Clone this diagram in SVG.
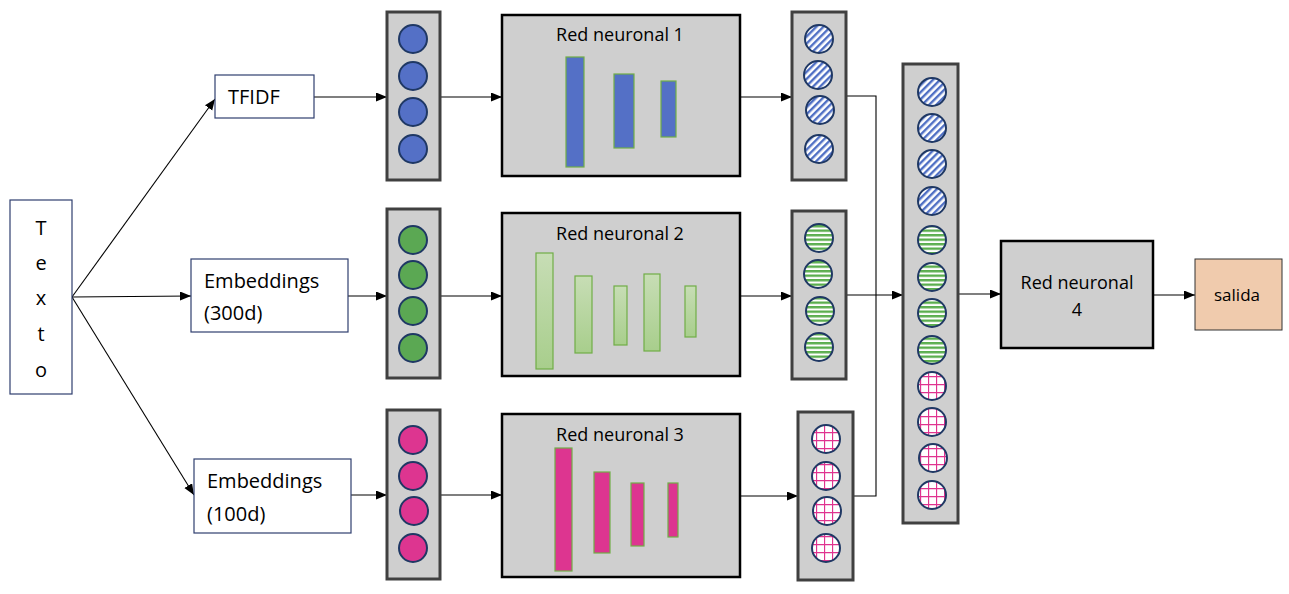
<svg xmlns="http://www.w3.org/2000/svg" width="1289" height="594" viewBox="0 0 1289 594">
<style>
text{font-family:"Open Sans","Liberation Sans",sans-serif;fill:#000}
.tbox{fill:#fff;stroke:#2F3F6F;stroke-width:1.2}
.vec{fill:#CFCFCF;stroke:#404040;stroke-width:3}
.net{fill:#CFCFCF;stroke:#000;stroke-width:2.5}
.c{stroke:#1F3864;stroke-width:2}
.cb{fill:#5470C6}
.cg{fill:#5BA853}
.cm{fill:#DD3590}
.pd{fill:url(#pDiag)}
.ph{fill:url(#pHor)}
.pg{fill:url(#pGrid)}
.bb{fill:#5470C6;stroke:#70AD47;stroke-width:1.2}
.bg{fill:url(#gGreen);stroke:#70AD47;stroke-width:1.2}
.bm{fill:#DD3590;stroke:#70AD47;stroke-width:1.2}
.conn{fill:none;stroke:#000;stroke-width:1.1}
</style>
<defs>
<marker id="arr" markerUnits="userSpaceOnUse" markerWidth="12" markerHeight="10" refX="11" refY="4.5" orient="auto">
<path d="M0,0 L11,4.5 L0,9 z" fill="#000"/>
</marker>
<pattern id="pDiag" patternUnits="userSpaceOnUse" width="5" height="5" patternTransform="rotate(45)">
<rect width="5" height="5" fill="#fff"/>
<rect width="2.4" height="5" fill="#4F6FC4"/>
</pattern>
<pattern id="pHor" patternUnits="userSpaceOnUse" width="5" height="4.5">
<rect width="5" height="4.5" fill="#fff"/>
<rect width="5" height="2.4" fill="#5BAE4E"/>
</pattern>
<pattern id="pGrid" patternUnits="userSpaceOnUse" width="8" height="8">
<rect width="8" height="8" fill="#fff"/>
<path d="M0,0.5 H8 M0.5,0 V8" stroke="#E0338F" stroke-width="1.3"/>
</pattern>
<linearGradient id="gGreen" x1="0" y1="0" x2="0" y2="1">
<stop offset="0" stop-color="#C7DDB5"/>
<stop offset="1" stop-color="#A8CE8C"/>
</linearGradient>
</defs>

<g id="connectors">
<line class="conn" x1="72" y1="297" x2="215" y2="99" marker-end="url(#arr)"/>
<line class="conn" x1="72" y1="297" x2="191" y2="296" marker-end="url(#arr)"/>
<line class="conn" x1="72" y1="297" x2="194" y2="495" marker-end="url(#arr)"/>
<line class="conn" x1="314" y1="97" x2="387" y2="97" marker-end="url(#arr)"/>
<line class="conn" x1="348" y1="296" x2="387" y2="296" marker-end="url(#arr)"/>
<line class="conn" x1="351" y1="495" x2="387" y2="495" marker-end="url(#arr)"/>
<line class="conn" x1="440" y1="97" x2="502" y2="97" marker-end="url(#arr)"/>
<line class="conn" x1="440" y1="296" x2="502" y2="296" marker-end="url(#arr)"/>
<line class="conn" x1="440" y1="495" x2="502" y2="495" marker-end="url(#arr)"/>
<line class="conn" x1="740" y1="97" x2="792" y2="97" marker-end="url(#arr)"/>
<line class="conn" x1="740" y1="296" x2="792" y2="296" marker-end="url(#arr)"/>
<line class="conn" x1="740" y1="496" x2="798" y2="496" marker-end="url(#arr)"/>
<polyline class="conn" points="846,96 876,96 876,296"/>
<polyline class="conn" points="853,496 876,496 876,296"/>
<line class="conn" x1="846" y1="295" x2="903" y2="295" marker-end="url(#arr)"/>
<line class="conn" x1="958" y1="294" x2="1001" y2="294" marker-end="url(#arr)"/>
<line class="conn" x1="1153" y1="295" x2="1195" y2="295" marker-end="url(#arr)"/>
</g>

<g id="texto">
<rect class="tbox" x="10" y="200" width="62" height="194"/>
<text x="41" y="235" font-size="20" text-anchor="middle">T</text>
<text x="41" y="270" font-size="20" text-anchor="middle">e</text>
<text x="41" y="305" font-size="20" text-anchor="middle">x</text>
<text x="41" y="341" font-size="20" text-anchor="middle">t</text>
<text x="41" y="377" font-size="20" text-anchor="middle">o</text>
</g>

<g id="tfidf">
<rect class="tbox" x="215" y="75" width="99" height="43"/>
<text x="228" y="104" font-size="20">TFIDF</text>
</g>

<g id="emb300">
<rect class="tbox" x="191" y="259" width="157" height="73"/>
<text x="204" y="288" font-size="20">Embeddings</text>
<text x="204" y="320" font-size="20">(300d)</text>
</g>

<g id="emb100">
<rect class="tbox" x="194" y="459" width="157" height="74"/>
<text x="207" y="488" font-size="20">Embeddings</text>
<text x="207" y="521" font-size="20">(100d)</text>
</g>

<g id="input1">
<rect class="vec" x="387" y="12" width="53" height="168"/>
<circle class="c cb" cx="413" cy="39" r="14"/>
<circle class="c cb" cx="413" cy="76" r="14"/>
<circle class="c cb" cx="413" cy="112" r="14"/>
<circle class="c cb" cx="413" cy="149" r="14"/>
</g>
<g id="input2">
<rect class="vec" x="387" y="209" width="53" height="169"/>
<circle class="c cg" cx="413" cy="240" r="14"/>
<circle class="c cg" cx="413" cy="275" r="14"/>
<circle class="c cg" cx="413" cy="311" r="14"/>
<circle class="c cg" cx="413" cy="348" r="14"/>
</g>
<g id="input3">
<rect class="vec" x="387" y="410" width="53" height="169"/>
<circle class="c cm" cx="413" cy="440" r="14"/>
<circle class="c cm" cx="413" cy="476" r="14"/>
<circle class="c cm" cx="414" cy="511" r="14"/>
<circle class="c cm" cx="413" cy="548" r="14"/>
</g>

<g id="net1">
<rect class="net" x="502" y="15" width="238" height="161"/>
<text x="620" y="41" font-size="18" text-anchor="middle">Red neuronal 1</text>
<rect class="bb" x="566" y="57" width="18" height="110"/>
<rect class="bb" x="614" y="74" width="20" height="74"/>
<rect class="bb" x="661" y="81" width="15" height="56"/>
</g>
<g id="net2">
<rect class="net" x="502" y="213" width="238" height="163"/>
<text x="620" y="240" font-size="18" text-anchor="middle">Red neuronal 2</text>
<rect class="bg" x="536" y="253" width="17" height="116"/>
<rect class="bg" x="575" y="276" width="17" height="77"/>
<rect class="bg" x="614" y="286" width="13" height="59"/>
<rect class="bg" x="644" y="274" width="16" height="77"/>
<rect class="bg" x="685" y="286" width="11" height="51"/>
</g>
<g id="net3">
<rect class="net" x="502" y="414" width="238" height="163"/>
<text x="620" y="441" font-size="18" text-anchor="middle">Red neuronal 3</text>
<rect class="bm" x="555" y="448" width="17" height="123"/>
<rect class="bm" x="594" y="472" width="16" height="81"/>
<rect class="bm" x="631" y="483" width="13" height="63"/>
<rect class="bm" x="668" y="483" width="10" height="54"/>
</g>

<g id="out1">
<rect class="vec" x="792" y="12" width="54" height="168"/>
<circle class="c pd" cx="819" cy="39" r="14"/>
<circle class="c pd" cx="818" cy="75" r="14"/>
<circle class="c pd" cx="820" cy="110" r="14"/>
<circle class="c pd" cx="819" cy="149" r="14"/>
</g>
<g id="out2">
<rect class="vec" x="792" y="211" width="54" height="168"/>
<circle class="c ph" cx="819" cy="238" r="14"/>
<circle class="c ph" cx="818" cy="274" r="14"/>
<circle class="c ph" cx="820" cy="311" r="14"/>
<circle class="c ph" cx="819" cy="347" r="14"/>
</g>
<g id="out3">
<rect class="vec" x="798" y="412" width="55" height="168"/>
<circle class="c pg" cx="826" cy="439" r="14"/>
<circle class="c pg" cx="826" cy="476" r="14"/>
<circle class="c pg" cx="827" cy="511" r="14"/>
<circle class="c pg" cx="826" cy="548" r="14"/>
</g>

<g id="concat">
<rect class="vec" x="903" y="64" width="55" height="459"/>
<circle class="c pd" cx="932" cy="92" r="14"/>
<circle class="c pd" cx="932" cy="128" r="14"/>
<circle class="c pd" cx="932" cy="164" r="14"/>
<circle class="c pd" cx="932" cy="201" r="14"/>
<circle class="c ph" cx="932" cy="240" r="14"/>
<circle class="c ph" cx="932" cy="277" r="14"/>
<circle class="c ph" cx="932" cy="313" r="14"/>
<circle class="c ph" cx="932" cy="350" r="14"/>
<circle class="c pg" cx="932" cy="386" r="14"/>
<circle class="c pg" cx="932" cy="422" r="14"/>
<circle class="c pg" cx="933" cy="458" r="14"/>
<circle class="c pg" cx="932" cy="495" r="14"/>
</g>

<g id="net4">
<rect class="net" x="1001" y="241" width="152" height="107"/>
<text x="1077" y="289" font-size="18" text-anchor="middle">Red neuronal</text>
<text x="1077" y="316" font-size="18" text-anchor="middle">4</text>
</g>

<g id="salida">
<rect x="1195" y="259" width="87" height="71" fill="#F0CBAD" stroke="#333" stroke-width="1"/>
<text x="1237" y="301" font-size="17" text-anchor="middle">salida</text>
</g>
</svg>
